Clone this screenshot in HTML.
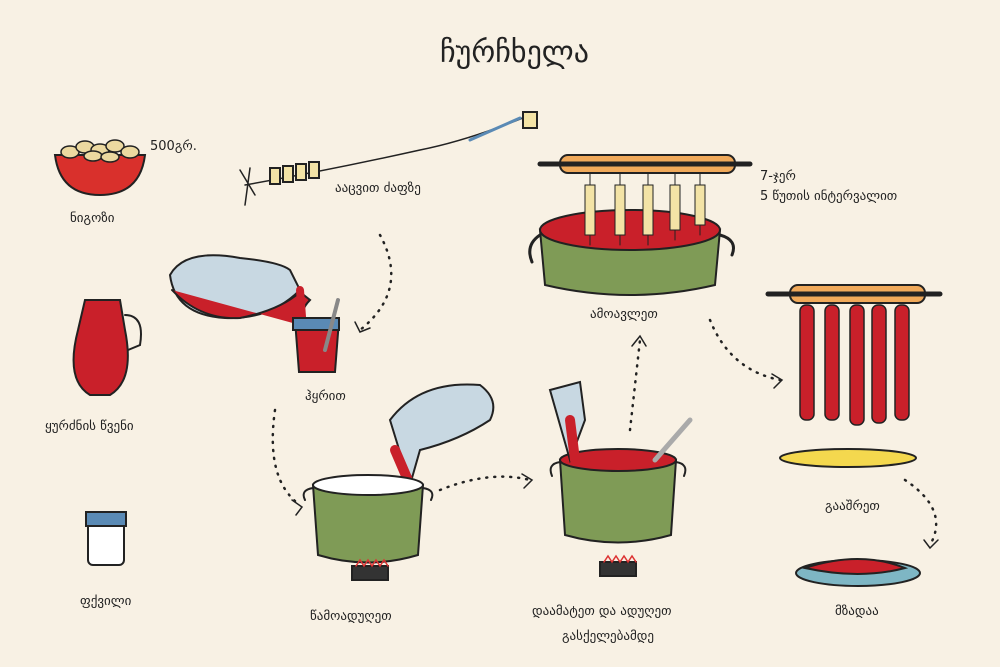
<!DOCTYPE html>
<html><head><meta charset="utf-8"><style>
html,body{margin:0;padding:0;background:#f8f1e4;}
svg{display:block}
text{font-family:"DejaVu Sans","Liberation Sans",sans-serif;fill:#222;font-size:13px}
</style></head><body>
<svg width="1000" height="667" viewBox="0 0 1000 667" xmlns="http://www.w3.org/2000/svg">
<rect width="1000" height="667" fill="#f8f1e4"/>
<g stroke="#222" stroke-width="2" stroke-linecap="round">
<text x="440" y="62" style="font-size:30px" stroke="none">ჩურჩხელა</text>

<!-- bowl of walnuts -->
<path d="M55 155 Q60 195 100 195 Q140 195 145 155 Z" fill="#d9302c"/>
<g fill="#ecd9a0" stroke-width="1.5">
<ellipse cx="70" cy="152" rx="9" ry="6"/><ellipse cx="85" cy="147" rx="9" ry="6"/><ellipse cx="100" cy="150" rx="9" ry="6"/><ellipse cx="115" cy="146" rx="9" ry="6"/><ellipse cx="130" cy="152" rx="9" ry="6"/><ellipse cx="93" cy="156" rx="9" ry="5"/><ellipse cx="110" cy="157" rx="9" ry="5"/></g>
<text x="150" y="150" stroke="none">500გრ.</text>
<text x="70" y="222" stroke="none">ნიგოზი</text>

<!-- thread -->
<path d="M245 185 Q330 170 420 150 Q470 140 530 115" fill="none" stroke-width="1.5"/>
<path d="M240 170 L255 195 M250 168 L245 205" stroke-width="1.5"/>
<line x1="470" y1="140" x2="520" y2="118" stroke="#5a8ab5" stroke-width="3"/>
<rect x="523" y="112" width="14" height="16" fill="#f3e3a6"/>
<g fill="#f3e3a6"><rect x="270" y="168" width="10" height="16"/><rect x="283" y="166" width="10" height="16"/><rect x="296" y="164" width="10" height="16"/><rect x="309" y="162" width="10" height="16"/></g>
<text x="335" y="192" stroke="none">ააცვით ძაფზე</text>

<!-- jug pouring -->
<path d="M170 275 Q185 248 240 258 Q280 262 290 270 L300 290 Q270 320 225 318 Q175 315 170 275 Z" fill="#c8d8e2"/>
<path d="M172 290 Q200 320 240 318 Q280 310 300 292 L310 300 Q300 310 300 325" fill="#c9202a"/>
<path d="M300 290 L303 330" stroke="#c9202a" stroke-width="8"/>
<path d="M295 320 L299 372 L335 372 L339 320 Z" fill="#c9202a"/>
<rect x="293" y="318" width="46" height="12" fill="#5a8ab5"/>
<path d="M325 350 L338 300" stroke="#888" stroke-width="4"/>
<text x="305" y="400" stroke="none">ჰყრით</text>

<!-- pitcher -->
<path d="M85 300 L120 300 L125 330 Q135 380 110 395 L90 395 Q65 380 78 330 Z" fill="#c9202a"/>
<path d="M125 315 Q145 315 140 345 L128 350" fill="none"/>
<text x="45" y="430" stroke="none">ყურძნის წვენი</text>

<!-- flour jar -->
<rect x="88" y="515" width="36" height="50" rx="5" fill="#fff"/>
<rect x="86" y="512" width="40" height="14" fill="#5a8ab5"/>
<text x="80" y="605" stroke="none">ფქვილი</text>

<!-- pot 1 -->
<path d="M390 420 Q420 380 480 385 Q500 400 490 420 Q460 440 420 450 L410 485 Z" fill="#c8d8e2"/>
<path d="M395 450 L410 485" stroke="#c9202a" stroke-width="10"/>
<path d="M313 488 Q300 490 305 500 M423 488 Q436 490 431 500" fill="none"/>
<path d="M313 485 L318 555 Q368 570 418 555 L423 485 Q368 500 313 485 Z" fill="#7f9b56"/>
<ellipse cx="368" cy="485" rx="55" ry="10" fill="#fff"/>
<rect x="352" y="566" width="36" height="14" fill="#333"/>
<path d="M356 566 l4 -6 l4 6 l4 -6 l4 6 l4 -6 l4 6 l4 -6 l4 6" fill="none" stroke="#d33" stroke-width="1.5"/>
<text x="310" y="620" stroke="none">წამოადუღეთ</text>

<!-- pot 2 -->
<path d="M560 462 Q547 464 552 476 M676 462 Q689 464 684 476" fill="none"/>
<path d="M560 460 L565 535 Q618 550 671 535 L676 460 Q618 478 560 460 Z" fill="#7f9b56"/>
<ellipse cx="618" cy="460" rx="58" ry="11" fill="#c9202a"/>
<path d="M550 390 L580 382 L585 420 L570 460 Z" fill="#c8d8e2"/>
<path d="M570 420 L575 460" stroke="#c9202a" stroke-width="10"/>
<line x1="655" y1="460" x2="690" y2="420" stroke="#aaa" stroke-width="5"/>
<rect x="600" y="562" width="36" height="14" fill="#333"/>
<path d="M604 562 l4 -6 l4 6 l4 -6 l4 6 l4 -6 l4 6 l4 -6 l4 6" fill="none" stroke="#d33" stroke-width="1.5"/>
<text x="532" y="615" stroke="none">დაამატეთ და ადუღეთ</text>
<text x="562" y="640" stroke="none">გასქელებამდე</text>

<!-- rolling pin + pot -->
<rect x="560" y="155" width="175" height="18" rx="8" fill="#f0a95a"/>
<line x1="540" y1="164" x2="750" y2="164" stroke-width="5"/>
<path d="M540 235 Q525 245 532 262 M720 235 Q738 240 732 255" fill="none" stroke-width="3"/>
<path d="M540 230 L545 285 Q630 305 715 285 L720 230 Q630 265 540 230 Z" fill="#7f9b56"/>
<ellipse cx="630" cy="230" rx="90" ry="20" fill="#c9202a"/>
<g stroke-width="1">
<line x1="590" y1="173" x2="590" y2="245"/><line x1="620" y1="173" x2="620" y2="245"/><line x1="648" y1="173" x2="648" y2="245"/><line x1="675" y1="173" x2="675" y2="240"/><line x1="700" y1="173" x2="700" y2="235"/></g>
<g fill="#f3e3a6" stroke-width="1"><rect x="585" y="185" width="10" height="50"/><rect x="615" y="185" width="10" height="50"/><rect x="643" y="185" width="10" height="50"/><rect x="670" y="185" width="10" height="45"/><rect x="695" y="185" width="10" height="40"/></g>
<text x="590" y="318" stroke="none">ამოავლეთ</text>
<text x="760" y="180" stroke="none">7-ჯერ</text>
<text x="760" y="200" stroke="none">5 წუთის ინტერვალით</text>

<!-- drying -->
<rect x="790" y="285" width="135" height="18" rx="8" fill="#f0a95a"/>
<line x1="768" y1="294" x2="940" y2="294" stroke-width="5"/>
<g fill="#c9202a" stroke-width="1.5">
<rect x="800" y="305" width="14" height="115" rx="6"/><rect x="825" y="305" width="14" height="115" rx="6"/><rect x="850" y="305" width="14" height="120" rx="6"/><rect x="872" y="305" width="14" height="118" rx="6"/><rect x="895" y="305" width="14" height="115" rx="6"/></g>
<ellipse cx="848" cy="458" rx="68" ry="9" fill="#f4d84e"/>
<text x="825" y="510" stroke="none">გააშრეთ</text>

<ellipse cx="858" cy="573" rx="62" ry="13" fill="#7eb6c4"/>
<path d="M805 568 Q860 550 905 568 Q860 580 805 568 Z" fill="#c9202a"/>
<text x="835" y="615" stroke="none">მზადაა</text>

<!-- dotted arrows -->
<g fill="none" stroke-dasharray="1 7" stroke-width="2.5">
<path d="M380 235 Q410 290 360 330"/>
<path d="M275 410 Q265 480 300 505"/>
<path d="M440 490 Q490 470 530 480"/>
<path d="M630 430 L640 340"/>
<path d="M710 320 Q730 370 780 380"/>
<path d="M905 480 Q950 510 930 545"/>
</g>
<g fill="none" stroke-width="1.5">
<path d="M355 322 L360 332 L370 328"/>
<path d="M292 500 L302 507 L296 515"/>
<path d="M522 474 L532 480 L524 488"/>
<path d="M632 346 L640 336 L646 346"/>
<path d="M772 374 L782 380 L774 388"/>
<path d="M924 540 L930 548 L938 540"/>
</g>
</g>
</svg>
</body></html>
